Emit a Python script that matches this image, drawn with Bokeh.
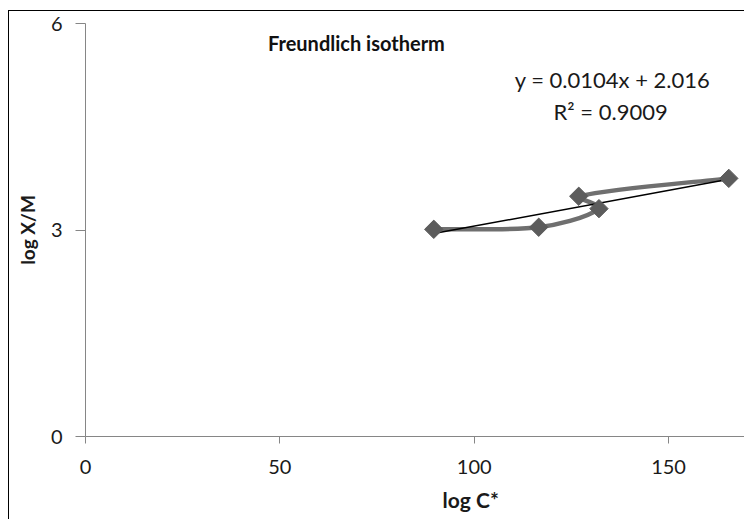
import numpy as np
from bokeh.plotting import figure
from bokeh.models import ColumnDataSource, FixedTicker, Label, Title
from bokeh.embed import file_html
from bokeh.resources import INLINE

# ---- data ----
log_c = [89.6, 116.6, 132.1, 126.9, 165.5]
log_xm = [3.01, 3.04, 3.31, 3.49, 3.75]
x_ticks = [0, 50, 100, 150]
y_ticks = [0, 3, 6]
trend_slope = 0.0104
trend_intercept = 2.016
title_text = "Freundlich isotherm"
eq_text = "y = 0.0104x + 2.016"
r2_text = "R\u00b2 = 0.9009"
x_label = "log C*"
y_label = "log X/M"

FONT = "Lato"
X_END = 169.8
Y_END = 6

p = figure(width=736, height=509, x_range=(0, X_END), y_range=(0, Y_END),
           output_backend="svg", toolbar_location=None,
           min_border_left=76, min_border_right=0, min_border_top=12, min_border_bottom=84)
p.styles = {"border-left": "1px solid black", "border-top": "1px solid black",
            "margin-top": "10px", "margin-left": "8px"}
p.outline_line_color = None
p.xgrid.visible = False
p.ygrid.visible = False
p.background_fill_color = "white"
p.border_fill_color = "white"

for ax in (p.xaxis[0], p.yaxis[0]):
    ax.axis_line_color = "#868686"
    ax.major_tick_line_color = "#868686"
    ax.minor_tick_line_color = None
    ax.major_tick_in = 0
    ax.major_label_text_font = FONT
    ax.major_label_text_font_size = "20px"
    ax.major_label_text_color = "#1a1a1a"
    ax.axis_label_text_font = FONT
    ax.axis_label_text_font_size = "19px"
    ax.axis_label_text_font_style = "bold"
    ax.axis_label_text_color = "#1a1a1a"

p.xaxis.ticker = FixedTicker(ticks=x_ticks)
p.yaxis.ticker = FixedTicker(ticks=y_ticks)
p.xaxis.major_tick_out = 7
p.yaxis.major_tick_out = 10
p.xaxis.major_label_standoff = 16
p.yaxis.major_label_standoff = 13
p.yaxis.axis_label = y_label
p.yaxis.axis_label_standoff = 9

# x-axis title, placed where the reference puts it
p.add_layout(Title(text=x_label, align="left", offset=357, standoff=17,
                   text_font=FONT, text_font_size="21px", text_font_style="bold",
                   text_color="#1a1a1a"), "below")

# approximate pixel scales of the frame (for the curve smoothing only)
fw, fh = 736 - 76, 509 - 12 - 84
sx, sy = fw / X_END, fh / Y_END

# smoothed series line (Bezier through the points, tangent scaled by segment length)
xs = np.array(log_c, dtype=float) * sx
ys = np.array(log_xm, dtype=float) * sy
n = len(xs)
P = np.stack([xs, ys], axis=1)
tang = []
for i in range(n):
    a = P[max(i - 1, 0)]
    b = P[min(i + 1, n - 1)]
    d = b - a
    L = np.hypot(*d)
    tang.append(d / L if L > 0 else d)
k = 0.25
seg = dict(x0=[], y0=[], x1=[], y1=[], cx0=[], cy0=[], cx1=[], cy1=[])
for i in range(n - 1):
    L = np.hypot(*(P[i + 1] - P[i]))
    c0 = P[i] + tang[i] * L * k
    c1 = P[i + 1] - tang[i + 1] * L * k
    seg["x0"].append(P[i][0] / sx); seg["y0"].append(P[i][1] / sy)
    seg["x1"].append(P[i + 1][0] / sx); seg["y1"].append(P[i + 1][1] / sy)
    seg["cx0"].append(c0[0] / sx); seg["cy0"].append(c0[1] / sy)
    seg["cx1"].append(c1[0] / sx); seg["cy1"].append(c1[1] / sy)
p.bezier(x0="x0", y0="y0", x1="x1", y1="y1", cx0="cx0", cy0="cy0", cx1="cx1", cy1="cy1",
         source=ColumnDataSource(seg), line_color="#6f6f6f", line_width=4.5, line_cap="round")

# linear trendline
tx = [min(log_c), max(log_c)]
ty = [trend_slope * v + trend_intercept for v in tx]
p.line(tx, ty, line_color="black", line_width=1.5)

# markers
p.scatter(log_c, log_xm, marker="square", angle=np.pi / 4, size=13,
          fill_color="#5c5c5c", line_color="#5c5c5c")

# texts
p.add_layout(Label(x=69.7, y=5.72, text=title_text,
                   text_font=FONT, text_font_size="20px", text_font_style="bold",
                   text_color="#111111", text_align="center", text_baseline="middle"))
p.add_layout(Label(x=135.6, y=5.19, text=eq_text,
                   text_font=FONT, text_font_size="22px", text_color="#1a1a1a",
                   text_align="center", text_baseline="middle"))
p.add_layout(Label(x=135.1, y=4.72, text=r2_text,
                   text_font=FONT, text_font_size="22px", text_color="#1a1a1a",
                   text_align="center", text_baseline="middle"))

open("out.html", "w").write(file_html(p, INLINE))
